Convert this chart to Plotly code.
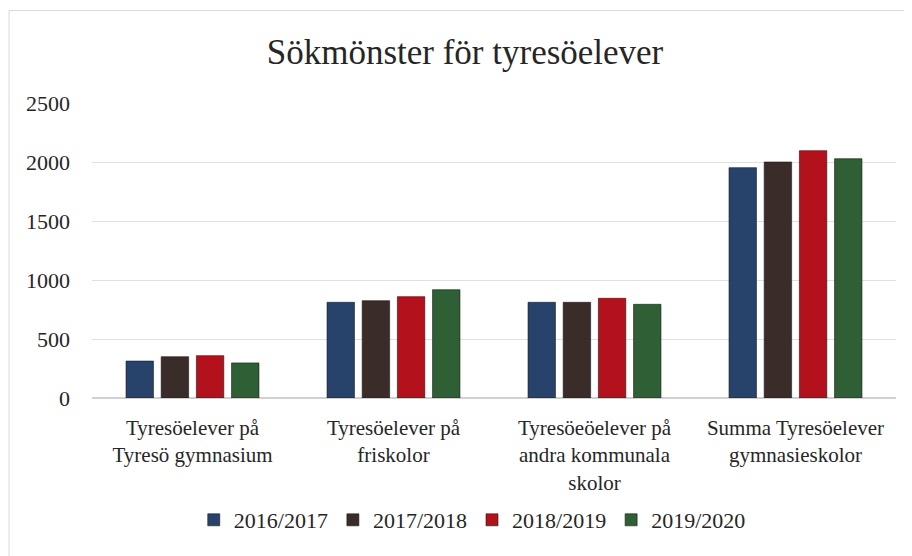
import plotly.graph_objects as go

categories = [
    "Tyresöelever på<br>Tyresö gymnasium",
    "Tyresöelever på<br>friskolor",
    "Tyresöeöelever på<br>andra kommunala<br>skolor",
    "Summa Tyresöelever<br>gymnasieskolor",
]
series_names = ["2016/2017", "2017/2018", "2018/2019", "2019/2020"]
v2016 = [313, 811, 811, 1952]
v2017 = [350, 825, 811, 2000]
v2018 = [359, 859, 845, 2096]
v2019 = [297, 918, 794, 2028]
colors = ["#27436b", "#3a2c28", "#b3121d", "#2f5f35"]
tick_vals = [0, 500, 1000, 1500, 2000, 2500]

font_family = "Liberation Serif, Times New Roman, serif"

# page body has an 8px offset; figure sized to fill the remaining window
W, H = 904, 548
L, R, T, B = 83.5, 16, 95, 158
pw = W - L - R
ph = H - T - B
px0 = 8 + L  # plot left in window pixels

fig = go.Figure()
for name, vals, col in zip(series_names, [v2016, v2017, v2018, v2019], colors):
    fig.add_trace(go.Bar(x=categories, y=vals, name=name,
                         marker=dict(color=col, line=dict(color="#1a1a1a", width=0.6))))

fig.update_layout(
    width=W, height=H,
    paper_bgcolor="white", plot_bgcolor="white",
    margin=dict(l=L, r=R, t=T, b=B),
    barmode="group", bargap=0.30, bargroupgap=0.22,
    title=dict(text="Sökmönster för tyresöelever", x=(465 - 8) / W, xanchor="center",
               y=1 - 44 / H, yanchor="middle",
               font=dict(family=font_family, size=35, color="#262626")),
    font=dict(family=font_family, size=21, color="#262626"),
    legend=dict(orientation="h", x=(472 - px0) / pw, xanchor="center", y=(398 - 520) / ph,
                yanchor="middle",
                font=dict(family=font_family, size=22, color="#262626"),
                itemwidth=30, traceorder="normal"),
    xaxis=dict(showgrid=False, showline=False, ticks="", tickfont=dict(size=21),
               ticklabelstandoff=15),
    yaxis=dict(range=[0, 2500], tickvals=tick_vals, showgrid=True, gridcolor="#e0e0e0",
               zeroline=True, zerolinecolor="#d0d0d0", ticks="", ticklabelstandoff=21,
               tickfont=dict(size=22)),
    shapes=[
        dict(type="line", xref="paper", yref="paper",
             x0=(8.5 - px0) / pw, x1=(8.5 - px0) / pw,
             y0=(398 - 560) / ph, y1=(398 - 10.5) / ph,
             line=dict(color="#d9d9d9", width=1), layer="below"),
        dict(type="line", xref="paper", yref="paper",
             x0=(8.5 - px0) / pw, x1=(915 - px0) / pw,
             y0=(398 - 10.5) / ph, y1=(398 - 10.5) / ph,
             line=dict(color="#d9d9d9", width=1), layer="below"),
    ],
)

fig.write_html("out.html")
